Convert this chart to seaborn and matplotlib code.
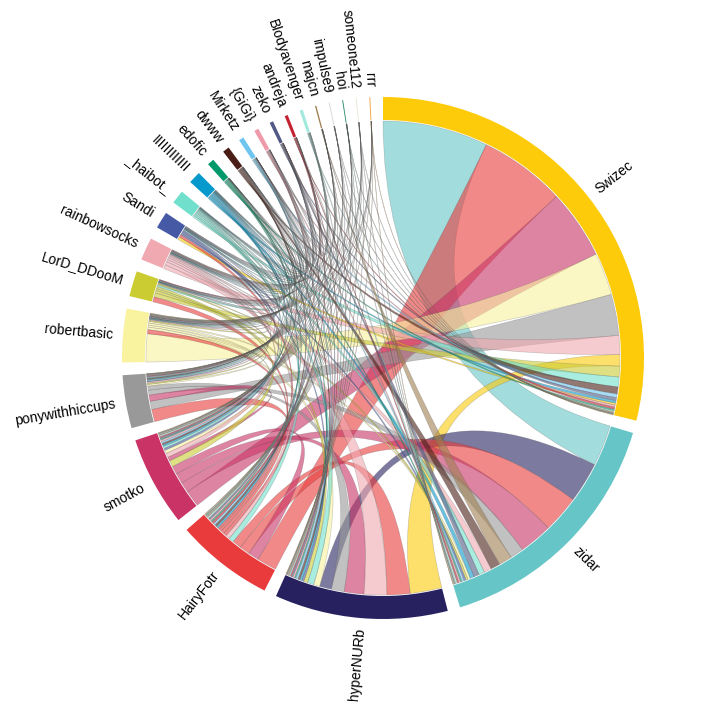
import numpy as np
import matplotlib
matplotlib.use("Agg")
import matplotlib.pyplot as plt
from matplotlib.path import Path
from matplotlib.patches import PathPatch, Wedge
import seaborn as sns

# groups, clockwise from 12 o'clock
names = ["Swizec", "zidar", "hyperNURb", "HairyFotr", "smotko", "ponywithhiccups",
         "robertbasic", "LorD_DDooM", "rainbowsocks", "Sandi", "_haibot_", "IIIIIIIIIIII",
         "edofic", "dwww", "Mirketz", "{GiGi}", "zeko", "andreja", "Blodyavenger",
         "majcn", "impulse9", "hoi", "someone112", "rrr"]

arc_colors = ["#fdcb0a", "#66c6c7", "#272160", "#e93b3b", "#c93366", "#999999",
              "#f9f29f", "#cbcb32", "#f1a9b1", "#4659a5", "#70e0cc", "#069acc",
              "#00996b", "#4a1e16", "#6ec6f0", "#ef9aaa", "#525a85", "#c42230", "#a2e9dd",
              "#9d7e50", "#d9d2dc", "#2b8c66", "#ebe6d5", "#f3a23b"]

# outgoing flows per group (row i belongs to names[i])
flow_to = [
    ["zidar", "HairyFotr", "smotko", "robertbasic", "ponywithhiccups", "rainbowsocks", "LorD_DDooM",
     "hyperNURb", "_haibot_", "dwww", "Mirketz", "Sandi", "zeko", "IIIIIIIIIIII", "andreja", "{GiGi}",
     "edofic", "majcn", "Blodyavenger", "impulse9", "hoi", "someone112", "rrr"],
    ["Swizec", "hyperNURb", "HairyFotr", "smotko", "ponywithhiccups", "majcn", "dwww", "rainbowsocks",
     "_haibot_", "zeko", "IIIIIIIIIIII", "robertbasic", "LorD_DDooM", "Sandi", "edofic", "Mirketz",
     "{GiGi}", "andreja", "Blodyavenger", "impulse9", "hoi", "someone112", "rrr"],
    ["Swizec", "HairyFotr", "rainbowsocks", "smotko", "ponywithhiccups", "zidar", "_haibot_",
     "robertbasic", "LorD_DDooM", "Sandi", "IIIIIIIIIIII", "edofic", "dwww", "Mirketz", "{GiGi}",
     "zeko", "andreja", "Blodyavenger", "majcn", "impulse9", "hoi", "someone112", "rrr"],
    ["Swizec", "smotko", "zidar", "hyperNURb", "_haibot_", "rainbowsocks", "ponywithhiccups",
     "robertbasic", "LorD_DDooM", "Sandi", "IIIIIIIIIIII", "edofic", "dwww", "Mirketz", "{GiGi}",
     "zeko", "andreja", "Blodyavenger", "majcn", "impulse9", "hoi", "someone112", "rrr"],
    ["Swizec", "zidar", "hyperNURb", "HairyFotr", "LorD_DDooM", "ponywithhiccups", "rainbowsocks",
     "robertbasic", "Sandi", "_haibot_", "IIIIIIIIIIII", "edofic", "dwww", "Mirketz", "{GiGi}",
     "zeko", "andreja", "Blodyavenger", "majcn", "impulse9", "hoi", "someone112", "rrr"],
    ["HairyFotr", "Swizec", "smotko", "zidar", "hyperNURb", "robertbasic", "LorD_DDooM",
     "rainbowsocks", "Sandi", "_haibot_", "IIIIIIIIIIII", "edofic", "dwww", "Mirketz", "{GiGi}",
     "zeko", "andreja", "Blodyavenger", "majcn", "impulse9", "hoi", "someone112", "rrr"],
    ["Swizec", "HairyFotr", "zidar", "hyperNURb", "smotko", "ponywithhiccups", "LorD_DDooM",
     "rainbowsocks", "Sandi", "_haibot_", "IIIIIIIIIIII", "edofic", "dwww", "Mirketz", "{GiGi}",
     "zeko", "andreja", "Blodyavenger", "majcn", "impulse9", "hoi", "someone112", "rrr"],
    ["HairyFotr", "Swizec", "smotko", "zidar", "hyperNURb", "_haibot_", "ponywithhiccups",
     "robertbasic", "rainbowsocks", "Sandi", "IIIIIIIIIIII", "edofic", "dwww", "Mirketz", "{GiGi}",
     "zeko", "andreja"],
    ["Swizec", "hyperNURb", "zidar", "HairyFotr", "smotko", "ponywithhiccups", "robertbasic",
     "LorD_DDooM", "Sandi", "_haibot_", "IIIIIIIIIIII", "edofic", "dwww", "Mirketz", "{GiGi}",
     "zeko", "andreja", "Blodyavenger", "majcn"],
    ["Swizec", "HairyFotr", "zidar", "hyperNURb", "smotko", "ponywithhiccups", "_haibot_",
     "robertbasic", "LorD_DDooM", "rainbowsocks", "IIIIIIIIIIII", "edofic", "dwww", "Mirketz",
     "{GiGi}", "zeko"],
    ["Swizec", "zidar", "hyperNURb", "HairyFotr", "smotko", "ponywithhiccups", "LorD_DDooM",
     "robertbasic", "rainbowsocks", "Sandi", "IIIIIIIIIIII", "edofic", "dwww", "Mirketz"],
    ["Swizec", "zidar", "hyperNURb", "HairyFotr", "smotko", "ponywithhiccups", "robertbasic",
     "LorD_DDooM", "rainbowsocks", "Sandi", "_haibot_", "edofic", "dwww", "Mirketz"],
    ["Swizec", "zidar", "HairyFotr", "hyperNURb", "smotko", "ponywithhiccups", "robertbasic",
     "rainbowsocks", "IIIIIIIIIIII", "dwww"],
    ["Swizec", "zidar", "hyperNURb", "HairyFotr", "smotko", "ponywithhiccups", "robertbasic",
     "LorD_DDooM", "edofic", "Mirketz"],
    ["Swizec", "zidar", "hyperNURb", "HairyFotr", "smotko", "ponywithhiccups", "{GiGi}", "zeko"],
    ["Swizec", "zidar", "hyperNURb", "HairyFotr", "smotko", "ponywithhiccups", "robertbasic", "zeko"],
    ["Swizec", "zidar", "hyperNURb", "HairyFotr", "smotko", "ponywithhiccups", "andreja"],
    ["Swizec", "zidar", "HairyFotr", "hyperNURb", "smotko", "ponywithhiccups"],
    ["Swizec", "zidar", "hyperNURb", "HairyFotr", "smotko", "ponywithhiccups", "robertbasic"],
    ["Swizec", "zidar", "hyperNURb", "HairyFotr", "smotko"],
    ["Swizec", "zidar", "hyperNURb", "HairyFotr", "smotko"],
    ["Swizec", "zidar", "hyperNURb", "HairyFotr"],
    ["Swizec", "zidar", "HairyFotr", "hyperNURb"],
    ["Swizec", "zidar", "HairyFotr", "hyperNURb"],
]

flow_width = [
    [25.6, 21.0, 16.8, 10.3, 10.0, 4.6, 2.6, 2.8, 2.4, 1.7, 0.9, 0.5, 0.7, 0.6, 0.5, 0.5,
     0.4, 0.3, 0.3, 0.1, 0.1, 0.1, 0.1],
    [10.0, 9.8, 9.0, 8.1, 3.3, 3.2, 2.3, 1.8, 1.4, 1.3, 1.0, 0.6, 0.5, 0.5, 0.4, 0.5,
     0.4, 0.4, 0.4, 0.2, 0.2, 0.2, 0.1],
    [7.7, 5.6, 5.5, 4.8, 3.1, 2.9, 1.5, 1.5, 1.0, 0.5, 0.5, 0.4, 0.5, 0.5, 0.4,
     0.4, 0.3, 0.3, 0.3, 0.2, 0.1, 0.1, 0.1],
    [4.8, 2.6, 2.5, 2.2, 1.2, 1.0, 0.8, 0.8, 0.6, 0.5, 0.5, 0.4, 0.5, 0.5, 0.4,
     0.4, 0.5, 0.4, 0.3, 0.2, 0.2, 0.2, 0.1],
    [4.0, 2.5, 2.5, 2.0, 1.5, 1.0, 1.0, 0.8, 0.5, 0.5, 0.4, 0.3, 0.4, 0.4, 0.4,
     0.3, 0.3, 0.3, 0.2, 0.2, 0.1, 0.1, 0.1],
    [3.0, 2.0, 1.5, 1.2, 1.0, 0.4, 0.3, 0.3, 0.2, 0.2, 0.2, 0.15, 0.2, 0.15, 0.15,
     0.15, 0.15, 0.1, 0.1, 0.1, 0.05, 0.05, 0.05],
    [6.8, 1.0, 0.5, 0.6, 0.5, 0.4, 0.3, 0.2, 0.1, 0.1, 0.1, 0.1, 0.1, 0.1, 0.1,
     0.1, 0.1, 0.1, 0.1, 0.1, 0.1, 0.1, 0.1],
    [1.2, 1.0, 0.6, 0.5, 0.5, 0.4, 0.3, 0.2, 0.1, 0.1, 0.1, 0.1, 0.1, 0.1, 0.1, 0.1, 0.1],
    [1.0, 0.8, 0.6, 0.5, 0.4, 0.3, 0.2, 0.1, 0.1, 0.1, 0.1, 0.1, 0.1, 0.1, 0.1, 0.1, 0.1, 0.1, 0.1],
    [0.7, 0.6, 0.4, 0.4, 0.3, 0.2, 0.2, 0.1, 0.1, 0.1, 0.1, 0.1, 0.1, 0.1, 0.1, 0.1],
    [0.5, 0.4, 0.4, 0.3, 0.3, 0.2, 0.2, 0.1, 0.1, 0.1, 0.1, 0.1, 0.1, 0.1],
    [0.4, 0.4, 0.3, 0.3, 0.3, 0.2, 0.1, 0.1, 0.1, 0.1, 0.1, 0.1, 0.1, 0.1],
    [0.3, 0.3, 0.25, 0.2, 0.15, 0.1, 0.05, 0.05, 0.05, 0.05],
    [0.3, 0.3, 0.2, 0.2, 0.2, 0.1, 0.05, 0.05, 0.05, 0.05],
    [0.25, 0.25, 0.15, 0.15, 0.1, 0.1, 0.05, 0.05],
    [0.2, 0.2, 0.15, 0.15, 0.1, 0.1, 0.05, 0.05],
    [0.2, 0.2, 0.1, 0.1, 0.1, 0.05, 0.05],
    [0.15, 0.15, 0.15, 0.1, 0.1, 0.05],
    [0.15, 0.15, 0.1, 0.1, 0.1, 0.05, 0.05],
    [0.08, 0.08, 0.05, 0.05, 0.04],
    [0.05, 0.05, 0.04, 0.03, 0.03],
    [0.06, 0.05, 0.04, 0.05],
    [0.06, 0.06, 0.04, 0.04],
    [0.07, 0.06, 0.04, 0.03],
]

sns.set_theme(style="white")
plt.rcParams['font.family'] = ['Liberation Sans', 'DejaVu Sans']

n = len(names)
M = np.zeros((n, n))
for i in range(n):
    for t, w in zip(flow_to[i], flow_width[i]):
        M[i, names.index(t)] = w

cx, cy = 383, 358
r_in, r_out = 238, 261
pad = np.deg2rad(2.8)
k = (2 * np.pi - pad * n) / M.sum()

# layout like d3.chord with descending subgroups
groups = []
sub = {}
x = 0.0
for i in range(n):
    x0 = x
    order = sorted(range(n), key=lambda j: -M[i, j])
    for j in order:
        if j == i:
            continue
        a0 = x
        x += M[i, j] * k
        sub[(i, j)] = (a0, x)
    groups.append((x0, x))
    x += pad

def pt(a, r):
    return (cx + r * np.sin(a), cy - r * np.cos(a))

def ribbon(s0, s1, t0, t1, r):
    verts, codes = [], []
    arc = np.linspace(s0, s1, max(2, int(np.degrees(s1 - s0)) + 2))
    verts += [pt(a, r) for a in arc]
    codes += [Path.MOVETO] + [Path.LINETO] * (len(arc) - 1)
    verts += [(cx, cy), pt(t0, r)]
    codes += [Path.CURVE3, Path.CURVE3]
    arc = np.linspace(t0, t1, max(2, int(np.degrees(t1 - t0)) + 2))
    verts += [pt(a, r) for a in arc[1:]]
    codes += [Path.LINETO] * (len(arc) - 1)
    verts += [(cx, cy), pt(s0, r), pt(s0, r)]
    codes += [Path.CURVE3, Path.CURVE3, Path.CLOSEPOLY]
    return Path(verts, codes)

fig = plt.figure(figsize=(7.07, 7.27), dpi=100)
ax = fig.add_axes([0, 0, 1, 1])
ax.set_xlim(0, 707)
ax.set_ylim(727, 0)
ax.axis('off')

for i in range(n):
    for j in range(i + 1, n):
        a, b = M[i, j], M[j, i]
        if a == 0 and b == 0:
            continue
        src, tgt = ((j, i), (i, j)) if a < b else ((i, j), (j, i))
        s0, s1 = sub[src]
        t0, t1 = sub[tgt]
        col = arc_colors[tgt[0]]
        ax.add_patch(PathPatch(ribbon(s0, s1, t0, t1, r_in - 1),
                               facecolor=matplotlib.colors.to_rgba(col, 0.6),
                               edgecolor=(0.3, 0.3, 0.3, 0.28), lw=0.45))

for i, (a0, a1) in enumerate(groups):
    ax.add_patch(Wedge((cx, cy), r_out, np.degrees(a0) - 90, np.degrees(a1) - 90,
                       width=r_out - r_in, facecolor=arc_colors[i], edgecolor='none'))
    a = (a0 + a1) / 2
    tx, ty = pt(a, r_out + 10)
    deg = np.degrees(a)
    if deg < 180:
        rot, ha = 90 - deg, 'left'
    else:
        rot, ha = 270 - deg, 'right'
    ax.text(tx, ty, names[i], rotation=rot, rotation_mode='anchor', ha=ha, va='center',
            fontsize=10, color='black')

fig.savefig("out.png", dpi=100)
